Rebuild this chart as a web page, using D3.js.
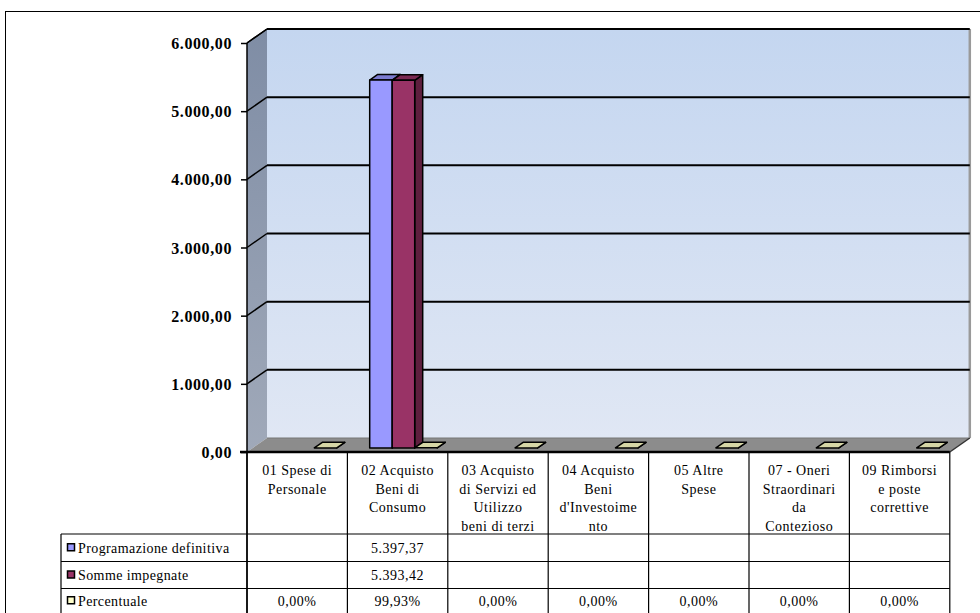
<!DOCTYPE html>
<html><head><meta charset="utf-8">
<script src="https://cdn.jsdelivr.net/npm/d3@7"></script>
<style>
html,body{margin:0;padding:0;background:#fff;overflow:hidden}
svg{display:block}
text{font-family:"Liberation Serif","Times New Roman",serif}
</style></head>
<body>
<svg id="chart" width="980" height="613"></svg>
<script>
// ---- data ----
const categories = [
  ["01 Spese di","Personale"],
  ["02 Acquisto","Beni di","Consumo"],
  ["03 Acquisto","di Servizi ed","Utilizzo","beni di terzi"],
  ["04 Acquisto","Beni","d'Investoime","nto"],
  ["05 Altre","Spese"],
  ["07 - Oneri","Straordinari","da","Contezioso"],
  ["09 Rimborsi","e poste","correttive"]
];
const seriesNames = ["Programazione definitiva","Somme impegnate","Percentuale"];
const programmazione = [null, 5397.37, null, null, null, null, null];
const somme = [null, 5393.42, null, null, null, null, null];
const percentuale = [0.00, 99.93, 0.00, 0.00, 0.00, 0.00, 0.00];
const yTicks = [0, 1000, 2000, 3000, 4000, 5000, 6000];

const fmtNum = v => v == null ? "" : d3.format(",.2f")(v).replace(/,/g,"#").replace(".",",").replace(/#/g,".");
const fmtPct = v => fmtNum(v) + "%";

const svg = d3.select("#chart");
const defs = svg.append("defs");

// geometry
const x0 = 247, x1 = 949.8, yBottom = 452, yTop = 43;
const DX = 20, DY = -14;
const y = d3.scaleLinear().domain([0, 6000]).range([yBottom, yTop]);
const x = d3.scaleBand().domain(d3.range(categories.length)).range([x0, x1]).paddingInner(0).paddingOuter(0);
const xs = d3.scaleBand().domain([0,1,2]).range([16.5, 16.5 + 67.5]);

// outer border
svg.append("rect").attr("x",5.5).attr("y",11.5).attr("width",1000).attr("height",700)
  .attr("fill","none").attr("stroke","#000").attr("stroke-width",1);

// gradients
const gBack = defs.append("linearGradient").attr("id","gBack").attr("x1",0).attr("y1",0).attr("x2",0).attr("y2",1);
gBack.append("stop").attr("offset","0%").attr("stop-color","#c4d6f0");
gBack.append("stop").attr("offset","100%").attr("stop-color","#e0e7f4");
const gSide = defs.append("linearGradient").attr("id","gSide").attr("x1",0).attr("y1",0).attr("x2",0).attr("y2",1);
gSide.append("stop").attr("offset","0%").attr("stop-color","#7f8da5");
gSide.append("stop").attr("offset","100%").attr("stop-color","#a0a9b9");

const P = pts => "M" + pts.map(p => p.join(",")).join("L") + "Z";

// back wall
svg.append("rect").attr("x", x0+DX).attr("y", yTop+DY).attr("width", x1-x0).attr("height", yBottom-yTop)
  .attr("fill","url(#gBack)");
// side wall
svg.append("path").attr("d", P([[x0,yTop],[x0+DX,yTop+DY],[x0+DX,yBottom+DY],[x0,yBottom]]))
  .attr("fill","url(#gSide)");
// floor
svg.append("path").attr("d", P([[x0,yBottom],[x1,yBottom],[x1+DX,yBottom+DY],[x0+DX,yBottom+DY]]))
  .attr("fill","#8c8c8c");
svg.append("line").attr("x1",x0+DX).attr("x2",x1+DX).attr("y1",yBottom+DY).attr("y2",yBottom+DY)
  .attr("stroke","#777").attr("stroke-width",1);
// back wall right edge
svg.append("line").attr("x1",x1+DX).attr("x2",x1+DX).attr("y1",yTop+DY).attr("y2",yBottom+DY)
  .attr("stroke","#9a9a9a").attr("stroke-width",2.5);

// gridlines
yTicks.filter(t => t > 0).forEach(t => {
  svg.append("line").attr("x1",x0+DX).attr("x2",x1+DX).attr("y1",y(t)+DY).attr("y2",y(t)+DY)
    .attr("stroke","#000").attr("stroke-width",2);
  svg.append("line").attr("x1",x0).attr("x2",x0+DX).attr("y1",y(t)).attr("y2",y(t)+DY)
    .attr("stroke","#000").attr("stroke-width",1.5);
});
// floor right diagonal edge
svg.append("line").attr("x1",x1).attr("x2",x1+DX).attr("y1",yBottom).attr("y2",yBottom+DY)
  .attr("stroke","#333").attr("stroke-width",1.5);

// bars
const colors = [
  {front:"#9999ff", top:"#7b7bd0", side:"#6666b0"},
  {front:"#993366", top:"#7a2952", side:"#5e1f3e"},
  {front:"#ffffcc", top:"#d6d6a6", side:"#b5b58a"}
];
const seriesVals = [programmazione, somme, percentuale.map(v => v/100)];
const f0 = 0.29, f1 = 0.69;
const barsG = svg.append("g");
categories.forEach((c, i) => {
  seriesVals.forEach((arr, s) => {
    const v = arr[i];
    if (v == null) return;
    const bx = x(i) + xs(s) + f0*DX, bw = xs.bandwidth();
    const by0 = y(0) + f0*DY, by1 = y(v) + f0*DY;
    const ddx = (f1-f0)*DX, ddy = (f1-f0)*DY;
    const col = colors[s];
    const g = barsG.append("g").attr("stroke","#000").attr("stroke-width",1.5).attr("stroke-linejoin","round");
    g.append("path").attr("d", P([[bx+bw,by0],[bx+bw+ddx,by0+ddy],[bx+bw+ddx,by1+ddy],[bx+bw,by1]])).attr("fill",col.side);
    g.append("path").attr("d", P([[bx,by1],[bx+bw,by1],[bx+bw+ddx,by1+ddy],[bx+ddx,by1+ddy]])).attr("fill",col.top);
    if (by0 - by1 > 1) g.append("rect").attr("x",bx).attr("y",by1).attr("width",bw).attr("height",by0-by1).attr("fill",col.front);
  });
});

// left wall top edge & axis
svg.append("line").attr("x1",x0).attr("x2",x0+DX).attr("y1",yTop).attr("y2",yTop+DY).attr("stroke","#000").attr("stroke-width",1.5);
svg.append("line").attr("x1",x0).attr("x2",x0).attr("y1",yTop).attr("y2",613).attr("stroke","#000").attr("stroke-width",1.5);
svg.append("line").attr("x1",240).attr("x2",x1).attr("y1",yBottom).attr("y2",yBottom).attr("stroke","#000").attr("stroke-width",2.5);

// y axis
const yAxis = d3.axisLeft(y).tickValues(yTicks).tickSize(6).tickPadding(9).tickFormat(fmtNum);
const ag = svg.append("g").attr("transform",`translate(${x0},0)`).call(yAxis);
ag.select(".domain").remove();
ag.selectAll(".tick line").attr("stroke","#000").attr("stroke-width",1.5);
ag.selectAll(".tick text").attr("font-family","'Liberation Serif',serif").attr("font-weight","bold")
  .attr("font-size",16).attr("letter-spacing","0.6px").attr("fill","#000").attr("dy","0.35em");

// data table
const tbl = svg.append("g").attr("stroke","#000").attr("stroke-width",1.2);
const rowY = [452, 534, 561.5, 588.5, 613];
const legendX = 61;
d3.range(categories.length + 1).forEach(k => {
  const xx = k < categories.length ? x(k) : x1;
  tbl.append("line").attr("x1",xx).attr("x2",xx).attr("y1",yBottom).attr("y2",613);
});
tbl.append("line").attr("x1",legendX).attr("x2",legendX).attr("y1",rowY[1]).attr("y2",613);
[rowY[1], rowY[2], rowY[3]].forEach(yy => {
  tbl.append("line").attr("x1",legendX).attr("x2",x1).attr("y1",yy).attr("y2",yy);
});

const tx = svg.append("g").attr("font-size",14).attr("letter-spacing","0.5px").attr("fill","#000");
categories.forEach((lines, i) => {
  const cx = x(i) + x.bandwidth()/2;
  lines.forEach((ln, j) => {
    tx.append("text").attr("x",cx).attr("y",475 + j*18.7).attr("text-anchor","middle").text(ln);
  });
});
const rowsData = [programmazione.map(fmtNum), somme.map(fmtNum), percentuale.map(fmtPct)];
rowsData.forEach((row, r) => {
  const cy = (rowY[r+1] + rowY[r+2]) / 2 + 5;
  row.forEach((t, i) => {
    if (!t) return;
    tx.append("text").attr("x", x(i) + x.bandwidth()/2).attr("y", cy).attr("text-anchor","middle").text(t);
  });
});
// legend
seriesNames.forEach((n, r) => {
  const cy = (rowY[r+1] + rowY[r+2]) / 2;
  svg.append("rect").attr("x",67.5).attr("y",cy-4).attr("width",7).attr("height",7)
    .attr("fill",colors[r].front).attr("stroke","#000").attr("stroke-width",1.5);
  svg.append("text").attr("x",78).attr("y",cy+5).attr("font-size",14).attr("letter-spacing","0.4px").text(n);
});
</script>
</body></html>
